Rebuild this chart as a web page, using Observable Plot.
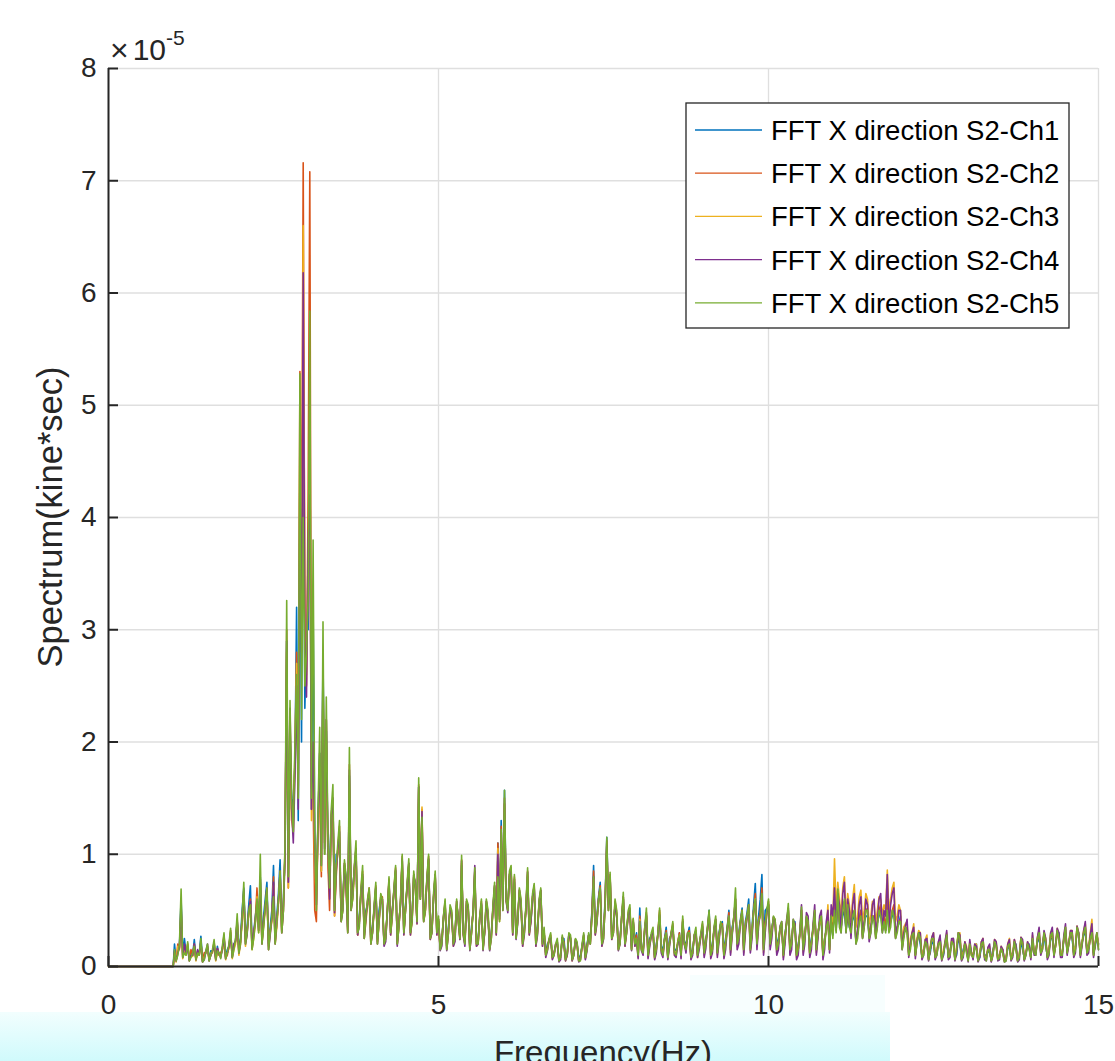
<!DOCTYPE html>
<html><head><meta charset="utf-8">
<script src="https://cdn.jsdelivr.net/npm/d3@7"></script>
<script src="https://cdn.jsdelivr.net/npm/@observablehq/plot@0.6"></script>
<style>
html,body{margin:0;padding:0;background:#fff;}
#wrap{position:relative;width:1115px;height:1061px;overflow:hidden;background:#fff;font-family:"Liberation Sans",Arial,sans-serif;}
.cyan{position:absolute;}
#chart{position:absolute;left:0;top:0;}
</style></head><body>
<div id="wrap">
  <div class="cyan" style="left:0;top:1012px;width:890px;height:49px;background:linear-gradient(#f2fefe,#d0fafc);"></div>
  <div class="cyan" style="left:690px;top:975px;width:195px;height:37px;background:#f7fefe;"></div>
  <div id="chart"></div>
</div>
<script>
const xTicks = [0, 5, 10, 15];
const yTicks = [0, 1, 2, 3, 4, 5, 6, 7, 8];
const seriesNames = ["FFT X direction S2-Ch1","FFT X direction S2-Ch2","FFT X direction S2-Ch3","FFT X direction S2-Ch4","FFT X direction S2-Ch5"];
const seriesColors = ["#0072BD","#D95319","#EDB120","#7E2F8E","#77AC30"];
const exponentLabel = "-5";

// silent band below 1 Hz
const silentFreq = [0, 0.98];
const silentVal = [0, 0];

// spectrum values (units of 1e-5 kine*sec) on bins 1.00, 1.05, ... 15.00 Hz (281 values)
// and on the in-between bins 1.025, 1.075, ... 14.975 Hz (280 values)
const ch1 = [
0.2,0.15,0.6,0.25,0.18,0.12,0.24,0.1,0.27,0.1,0.16,0.14,0.2,0.18,0.1,0.25,0.15,0.3,0.2,0.4,
0.25,0.7,0.35,0.72,0.3,0.55,0.8,0.45,0.75,0.35,0.9,0.45,0.95,0.6,2.9,2.1,1.5,3.2,4.0,5.6,
3.0,5.0,3.2,0.7,1.9,2.8,2.1,0.9,1.4,1.0,1.1,0.6,0.8,1.7,0.7,1.0,0.45,0.8,0.5,0.65,
0.35,0.7,0.5,0.55,0.3,0.75,0.5,0.85,0.4,0.95,0.55,0.9,0.45,0.75,1.6,1.35,0.55,0.95,0.35,0.8,
0.4,0.25,0.55,0.35,0.45,0.3,0.45,0.9,0.25,0.5,0.35,0.82,0.25,0.55,0.3,0.45,0.3,0.7,1.1,1.3,
1.57,0.55,0.85,0.75,0.45,0.55,0.35,0.8,0.4,0.7,0.35,0.65,0.3,0.2,0.25,0.12,0.22,0.1,0.25,0.1,
0.25,0.12,0.2,0.1,0.28,0.2,0.25,0.9,0.45,0.75,0.3,1.15,0.8,0.35,0.45,0.25,0.6,0.35,0.5,0.4,
0.3,0.52,0.15,0.45,0.25,0.3,0.2,0.45,0.15,0.35,0.25,0.35,0.15,0.3,0.4,0.2,0.35,0.15,0.3,0.2,
0.35,0.25,0.5,0.2,0.4,0.3,0.4,0.25,0.5,0.35,0.55,0.3,0.52,0.4,0.6,0.35,0.74,0.45,0.82,0.5,
0.55,0.35,0.4,0.25,0.35,0.3,0.45,0.25,0.4,0.2,0.45,0.3,0.35,0.25,0.45,0.3,0.4,0.25,0.45,0.4,
0.55,0.6,0.35,0.5,0.45,0.35,0.45,0.3,0.5,0.4,0.45,0.35,0.45,0.4,0.5,0.45,0.55,0.4,0.5,0.35,
0.45,0.3,0.35,0.2,0.3,0.25,0.2,0.15,0.25,0.12,0.2,0.15,0.25,0.1,0.22,0.15,0.25,0.1,0.2,0.15,
0.15,0.18,0.1,0.2,0.08,0.18,0.1,0.12,0.15,0.2,0.1,0.15,0.08,0.18,0.12,0.2,0.1,0.15,0.12,0.2,
0.2,0.15,0.25,0.2,0.18,0.15,0.25,0.2,0.3,0.12,0.3,0.22,0.25,0.18,0.3,0.22,0.3,0.2,0.35,0.18,
0.2];
const ch1Mid = [
0.06,0.18,0.1,0.12,0.06,0.1,0.08,0.12,0.05,0.12,0.07,0.14,0.08,0.1,0.15,0.09,0.18,0.1,0.22,0.15,
0.5,0.25,0.55,0.2,0.45,0.35,0.25,0.6,0.2,0.5,0.25,0.65,0.35,1.0,0.75,1.4,1.8,1.3,2.0,2.3,
3.0,1.4,1.1,1.3,0.85,1.0,1.0,1.3,0.5,1.0,0.45,0.9,0.35,0.55,0.85,0.3,0.65,0.3,0.55,0.25,
0.5,0.25,0.6,0.22,0.48,0.32,0.65,0.22,0.55,0.3,0.7,0.32,0.8,0.42,0.62,0.42,0.75,0.28,0.6,0.32,
0.18,0.42,0.18,0.5,0.22,0.55,0.28,0.32,0.55,0.18,0.48,0.22,0.42,0.18,0.55,0.18,0.5,0.32,0.45,0.55,
0.62,0.8,0.32,0.28,0.65,0.22,0.5,0.32,0.6,0.22,0.55,0.22,0.12,0.22,0.1,0.18,0.06,0.25,0.08,0.28,
0.08,0.22,0.06,0.18,0.1,0.28,0.5,0.32,0.62,0.22,0.6,0.55,0.28,0.55,0.18,0.42,0.22,0.45,0.18,0.22,
0.12,0.18,0.32,0.12,0.28,0.1,0.28,0.18,0.25,0.1,0.28,0.14,0.2,0.12,0.22,0.28,0.1,0.26,0.12,0.28,
0.14,0.32,0.12,0.32,0.15,0.38,0.12,0.35,0.18,0.42,0.22,0.42,0.18,0.48,0.2,0.55,0.25,0.6,0.2,0.52,
0.22,0.42,0.18,0.32,0.12,0.38,0.18,0.38,0.12,0.28,0.18,0.4,0.15,0.32,0.18,0.38,0.12,0.32,0.18,0.28,
0.32,0.38,0.45,0.32,0.35,0.42,0.22,0.4,0.28,0.45,0.28,0.42,0.28,0.45,0.32,0.32,0.32,0.45,0.28,0.38,
0.18,0.32,0.12,0.26,0.12,0.28,0.1,0.2,0.08,0.22,0.1,0.2,0.08,0.2,0.1,0.2,0.08,0.26,0.08,0.2,
0.07,0.12,0.16,0.06,0.18,0.1,0.14,0.06,0.2,0.08,0.15,0.06,0.16,0.08,0.2,0.06,0.22,0.08,0.18,0.1,
0.12,0.22,0.14,0.28,0.1,0.25,0.12,0.3,0.12,0.24,0.14,0.28,0.12,0.32,0.12,0.28,0.14,0.25,0.12,0.28];

const ch2 = [
0.12,0.2,0.5,0.18,0.2,0.15,0.2,0.14,0.22,0.12,0.18,0.1,0.22,0.16,0.12,0.28,0.1,0.32,0.18,0.42,
0.22,0.65,0.32,0.6,0.28,0.7,0.75,0.4,0.68,0.32,0.8,0.38,0.85,0.55,3.0,2.2,1.3,2.8,5.3,7.16,
2.5,7.08,1.5,0.4,1.6,2.6,2.2,0.5,1.5,0.8,1.25,0.55,0.75,1.8,0.65,1.05,0.4,0.85,0.45,0.7,
0.32,0.72,0.42,0.62,0.28,0.78,0.5,0.88,0.38,0.98,0.52,0.92,0.42,0.72,1.62,1.4,0.5,0.98,0.32,0.82,
0.42,0.22,0.58,0.32,0.48,0.28,0.42,0.95,0.22,0.52,0.32,0.85,0.22,0.58,0.32,0.48,0.28,0.72,1.1,1.25,
1.5,0.52,0.88,0.8,0.42,0.58,0.32,0.85,0.42,0.72,0.32,0.68,0.32,0.18,0.28,0.12,0.22,0.1,0.22,0.1,
0.26,0.12,0.2,0.08,0.28,0.18,0.22,0.85,0.42,0.72,0.28,1.12,0.82,0.32,0.48,0.22,0.62,0.32,0.52,0.42,
0.28,0.45,0.14,0.48,0.22,0.32,0.18,0.5,0.12,0.32,0.22,0.38,0.12,0.3,0.42,0.18,0.32,0.12,0.32,0.2,
0.38,0.22,0.48,0.18,0.42,0.28,0.38,0.22,0.48,0.32,0.6,0.28,0.5,0.38,0.55,0.32,0.65,0.42,0.7,0.4,
0.58,0.32,0.42,0.22,0.38,0.28,0.5,0.22,0.38,0.18,0.5,0.28,0.38,0.22,0.48,0.3,0.42,0.22,0.42,0.45,
0.6,0.7,0.35,0.58,0.5,0.35,0.5,0.3,0.5,0.38,0.52,0.35,0.45,0.4,0.55,0.45,0.6,0.42,0.55,0.35,
0.42,0.28,0.32,0.18,0.32,0.22,0.25,0.12,0.22,0.15,0.25,0.12,0.22,0.12,0.28,0.12,0.22,0.15,0.25,0.12,
0.14,0.2,0.1,0.16,0.1,0.2,0.08,0.15,0.12,0.18,0.1,0.12,0.08,0.2,0.1,0.16,0.1,0.2,0.12,0.16,
0.24,0.12,0.28,0.16,0.22,0.14,0.28,0.18,0.26,0.12,0.32,0.2,0.3,0.16,0.28,0.2,0.34,0.16,0.3,0.2,
0.18];
const ch2Mid = [
0.05,0.16,0.09,0.11,0.06,0.11,0.07,0.1,0.05,0.13,0.06,0.13,0.07,0.11,0.16,0.08,0.18,0.09,0.22,0.13,
0.42,0.22,0.48,0.18,0.42,0.32,0.22,0.52,0.18,0.42,0.22,0.58,0.32,1.05,0.7,1.3,1.9,1.6,3.5,3.0,
4.2,1.6,0.5,1.3,0.8,1.1,0.9,1.35,0.45,1.05,0.42,0.92,0.32,0.52,0.88,0.28,0.68,0.28,0.58,0.22,
0.52,0.22,0.62,0.2,0.5,0.3,0.68,0.2,0.58,0.3,0.72,0.3,0.82,0.4,0.62,0.42,0.78,0.26,0.62,0.3,
0.16,0.44,0.16,0.52,0.2,0.58,0.26,0.3,0.58,0.16,0.5,0.2,0.44,0.16,0.58,0.16,0.52,0.3,0.42,0.52,
0.6,0.82,0.3,0.26,0.68,0.2,0.52,0.3,0.62,0.2,0.58,0.2,0.1,0.24,0.08,0.2,0.05,0.26,0.06,0.28,
0.06,0.24,0.05,0.18,0.08,0.28,0.48,0.3,0.6,0.2,0.58,0.52,0.26,0.58,0.16,0.44,0.2,0.48,0.16,0.2,
0.1,0.16,0.34,0.1,0.28,0.08,0.3,0.16,0.24,0.08,0.3,0.12,0.22,0.1,0.2,0.3,0.08,0.28,0.1,0.28,
0.12,0.34,0.1,0.34,0.12,0.38,0.1,0.34,0.15,0.44,0.2,0.4,0.15,0.45,0.16,0.5,0.2,0.48,0.16,0.48,
0.2,0.44,0.15,0.34,0.1,0.4,0.15,0.4,0.1,0.3,0.15,0.44,0.12,0.34,0.15,0.4,0.1,0.34,0.15,0.3,
0.32,0.4,0.5,0.32,0.38,0.45,0.22,0.42,0.26,0.5,0.26,0.45,0.26,0.5,0.32,0.32,0.32,0.5,0.26,0.4,
0.16,0.34,0.1,0.28,0.1,0.3,0.08,0.22,0.06,0.24,0.08,0.2,0.06,0.2,0.08,0.22,0.06,0.28,0.06,0.2,
0.06,0.1,0.17,0.05,0.2,0.08,0.15,0.05,0.2,0.06,0.16,0.05,0.18,0.06,0.2,0.05,0.24,0.06,0.2,0.08,
0.12,0.24,0.12,0.28,0.08,0.26,0.1,0.3,0.1,0.24,0.12,0.3,0.1,0.33,0.1,0.3,0.12,0.24,0.1,0.28];

const ch3 = [
0.1,0.18,0.45,0.15,0.2,0.1,0.16,0.12,0.2,0.08,0.15,0.12,0.2,0.12,0.1,0.22,0.12,0.3,0.15,0.38,
0.2,0.6,0.3,0.55,0.25,0.62,0.7,0.35,0.65,0.3,0.72,0.35,0.8,0.5,2.8,2.0,1.2,2.7,4.8,6.6,
2.6,4.5,1.8,0.6,1.7,2.5,2.0,0.7,1.4,0.9,1.15,0.5,0.7,1.6,0.6,1.0,0.4,0.8,0.4,0.65,
0.3,0.68,0.4,0.58,0.25,0.75,0.45,0.85,0.35,0.95,0.5,0.9,0.4,0.7,1.58,1.42,0.48,0.95,0.3,0.8,
0.4,0.2,0.55,0.3,0.45,0.25,0.4,0.92,0.2,0.5,0.3,0.84,0.2,0.55,0.3,0.45,0.25,0.7,1.05,1.2,
1.45,0.5,0.85,0.78,0.4,0.55,0.3,0.82,0.4,0.7,0.3,0.65,0.3,0.15,0.25,0.1,0.2,0.08,0.2,0.1,
0.24,0.1,0.18,0.06,0.26,0.15,0.2,0.78,0.4,0.7,0.25,1.05,0.8,0.3,0.45,0.2,0.6,0.3,0.5,0.4,
0.25,0.42,0.12,0.45,0.2,0.3,0.15,0.48,0.1,0.3,0.2,0.35,0.1,0.28,0.4,0.15,0.3,0.12,0.3,0.18,
0.35,0.2,0.45,0.15,0.4,0.25,0.35,0.2,0.45,0.3,0.55,0.25,0.48,0.35,0.52,0.3,0.6,0.4,0.62,0.35,
0.55,0.3,0.4,0.2,0.38,0.25,0.5,0.2,0.35,0.15,0.5,0.25,0.4,0.2,0.5,0.3,0.45,0.25,0.55,0.5,
0.96,0.75,0.45,0.8,0.65,0.4,0.73,0.45,0.68,0.5,0.6,0.45,0.55,0.5,0.6,0.55,0.86,0.6,0.75,0.45,
0.5,0.35,0.4,0.25,0.38,0.25,0.3,0.15,0.28,0.18,0.3,0.15,0.25,0.15,0.3,0.12,0.25,0.18,0.3,0.12,
0.18,0.22,0.1,0.2,0.12,0.25,0.08,0.18,0.12,0.22,0.1,0.15,0.08,0.25,0.12,0.18,0.1,0.22,0.12,0.18,
0.28,0.12,0.32,0.18,0.25,0.15,0.32,0.2,0.28,0.12,0.35,0.22,0.32,0.18,0.3,0.22,0.38,0.18,0.42,0.22,
0.2];
const ch3Mid = [
0.04,0.15,0.07,0.1,0.05,0.09,0.05,0.1,0.04,0.12,0.05,0.12,0.05,0.1,0.14,0.06,0.16,0.07,0.2,0.1,
0.4,0.18,0.45,0.15,0.38,0.3,0.2,0.5,0.15,0.4,0.2,0.55,0.3,1.0,0.7,1.3,1.8,1.5,3.0,3.2,
3.6,1.3,0.9,1.2,0.85,1.0,0.95,1.2,0.45,1.0,0.4,0.9,0.3,0.5,0.8,0.28,0.62,0.25,0.55,0.2,
0.5,0.2,0.6,0.2,0.48,0.28,0.66,0.2,0.56,0.28,0.7,0.28,0.8,0.38,0.6,0.4,0.76,0.24,0.6,0.28,
0.15,0.42,0.15,0.5,0.18,0.56,0.24,0.28,0.56,0.15,0.48,0.18,0.42,0.15,0.56,0.15,0.5,0.28,0.4,0.5,
0.58,0.8,0.28,0.25,0.66,0.18,0.5,0.28,0.6,0.18,0.56,0.18,0.1,0.22,0.07,0.18,0.05,0.25,0.05,0.26,
0.05,0.22,0.05,0.16,0.07,0.26,0.45,0.28,0.58,0.18,0.55,0.5,0.24,0.55,0.15,0.42,0.18,0.45,0.15,0.18,
0.08,0.15,0.32,0.08,0.26,0.07,0.28,0.14,0.22,0.07,0.28,0.1,0.2,0.08,0.2,0.28,0.07,0.26,0.08,0.26,
0.1,0.32,0.08,0.32,0.1,0.36,0.08,0.32,0.12,0.42,0.18,0.38,0.12,0.42,0.14,0.48,0.18,0.45,0.12,0.46,
0.18,0.42,0.12,0.32,0.08,0.38,0.12,0.38,0.08,0.28,0.12,0.42,0.1,0.32,0.12,0.38,0.08,0.32,0.15,0.4,
0.5,0.6,0.7,0.45,0.55,0.6,0.35,0.62,0.4,0.65,0.38,0.58,0.4,0.62,0.45,0.5,0.48,0.7,0.4,0.55,
0.2,0.38,0.12,0.3,0.1,0.32,0.08,0.24,0.07,0.26,0.08,0.22,0.07,0.22,0.08,0.24,0.07,0.3,0.07,0.22,
0.06,0.12,0.2,0.05,0.22,0.08,0.17,0.05,0.24,0.07,0.18,0.05,0.2,0.07,0.24,0.05,0.26,0.07,0.22,0.08,
0.14,0.26,0.14,0.3,0.1,0.3,0.12,0.34,0.12,0.26,0.14,0.32,0.12,0.36,0.12,0.32,0.14,0.3,0.12,0.3];

const ch4 = [
0.14,0.12,0.55,0.2,0.16,0.1,0.2,0.15,0.22,0.06,0.2,0.1,0.18,0.16,0.08,0.26,0.12,0.28,0.2,0.4,
0.22,0.68,0.28,0.58,0.3,0.58,0.78,0.38,0.7,0.28,0.75,0.4,0.82,0.5,2.9,2.3,1.1,2.5,4.45,6.18,
2.4,4.2,2.0,0.55,1.9,2.7,2.2,0.6,1.5,0.85,1.2,0.5,0.72,1.75,0.62,1.05,0.38,0.82,0.42,0.68,
0.3,0.7,0.42,0.6,0.22,0.76,0.48,0.86,0.36,0.96,0.5,0.92,0.42,0.7,1.6,1.38,0.5,0.96,0.3,0.82,
0.42,0.18,0.56,0.3,0.46,0.22,0.4,0.94,0.18,0.52,0.3,0.9,0.2,0.56,0.32,0.46,0.26,0.72,1.0,1.2,
1.45,0.48,0.85,0.78,0.38,0.56,0.28,0.84,0.4,0.72,0.28,0.68,0.3,0.14,0.26,0.1,0.2,0.06,0.2,0.1,
0.25,0.1,0.2,0.06,0.26,0.14,0.2,0.8,0.38,0.7,0.24,1.08,0.8,0.3,0.46,0.2,0.62,0.3,0.5,0.4,
0.24,0.4,0.1,0.46,0.18,0.3,0.12,0.46,0.08,0.3,0.18,0.36,0.08,0.26,0.4,0.12,0.3,0.1,0.3,0.15,
0.36,0.16,0.46,0.12,0.42,0.22,0.35,0.15,0.45,0.28,0.6,0.2,0.48,0.3,0.52,0.25,0.58,0.36,0.62,0.3,
0.55,0.25,0.4,0.15,0.4,0.2,0.52,0.15,0.38,0.1,0.55,0.2,0.45,0.15,0.55,0.25,0.5,0.15,0.5,0.55,
0.7,0.65,0.3,0.75,0.6,0.25,0.65,0.3,0.62,0.35,0.55,0.3,0.6,0.4,0.65,0.5,0.82,0.55,0.7,0.35,
0.5,0.3,0.42,0.2,0.35,0.22,0.3,0.1,0.25,0.15,0.3,0.1,0.28,0.1,0.32,0.08,0.25,0.12,0.28,0.08,
0.16,0.24,0.06,0.18,0.08,0.25,0.05,0.2,0.1,0.22,0.06,0.15,0.05,0.24,0.08,0.18,0.06,0.24,0.1,0.18,
0.3,0.1,0.35,0.15,0.25,0.1,0.35,0.2,0.3,0.08,0.38,0.2,0.32,0.12,0.3,0.18,0.4,0.12,0.38,0.2,
0.15];
const ch4Mid = [
0.05,0.17,0.08,0.12,0.05,0.1,0.06,0.11,0.04,0.13,0.05,0.14,0.06,0.11,0.16,0.07,0.18,0.08,0.23,0.12,
0.44,0.2,0.5,0.16,0.4,0.32,0.2,0.54,0.15,0.44,0.2,0.58,0.3,1.0,0.75,1.4,1.7,1.4,2.8,2.9,
3.8,1.4,1.1,1.3,0.9,1.05,1.05,1.35,0.48,1.05,0.4,0.92,0.3,0.5,0.88,0.28,0.66,0.25,0.58,0.2,
0.52,0.2,0.62,0.18,0.5,0.28,0.68,0.18,0.58,0.28,0.72,0.28,0.82,0.38,0.6,0.4,0.78,0.24,0.62,0.28,
0.14,0.44,0.14,0.52,0.18,0.58,0.24,0.28,0.58,0.14,0.5,0.18,0.44,0.14,0.58,0.14,0.52,0.28,0.42,0.5,
0.58,0.82,0.28,0.24,0.68,0.18,0.52,0.28,0.62,0.18,0.58,0.18,0.08,0.24,0.06,0.2,0.04,0.26,0.05,0.28,
0.05,0.24,0.04,0.18,0.06,0.28,0.46,0.28,0.6,0.18,0.56,0.5,0.24,0.56,0.14,0.44,0.18,0.46,0.14,0.18,
0.07,0.14,0.34,0.07,0.28,0.06,0.3,0.12,0.24,0.06,0.3,0.1,0.2,0.07,0.2,0.3,0.06,0.28,0.08,0.28,
0.08,0.34,0.07,0.34,0.08,0.38,0.07,0.34,0.1,0.44,0.15,0.4,0.1,0.44,0.12,0.5,0.15,0.48,0.1,0.48,
0.15,0.44,0.1,0.36,0.06,0.42,0.1,0.42,0.06,0.32,0.1,0.48,0.08,0.38,0.1,0.45,0.06,0.4,0.12,0.45,
0.35,0.55,0.65,0.3,0.5,0.55,0.2,0.55,0.25,0.6,0.22,0.55,0.25,0.6,0.3,0.45,0.35,0.65,0.25,0.5,
0.15,0.36,0.08,0.3,0.07,0.3,0.06,0.24,0.05,0.26,0.06,0.22,0.05,0.22,0.06,0.25,0.05,0.3,0.05,0.22,
0.04,0.12,0.2,0.04,0.22,0.06,0.17,0.04,0.24,0.05,0.18,0.04,0.2,0.05,0.24,0.04,0.26,0.05,0.22,0.06,
0.1,0.26,0.1,0.32,0.06,0.3,0.08,0.34,0.08,0.28,0.1,0.32,0.08,0.36,0.08,0.32,0.1,0.28,0.08,0.3];

const ch5 = [
0.15,0.1,0.69,0.12,0.22,0.08,0.18,0.12,0.25,0.06,0.2,0.1,0.24,0.14,0.07,0.3,0.12,0.34,0.15,0.47,
0.2,0.75,0.3,0.55,0.25,0.6,1.0,0.35,0.7,0.3,0.62,0.4,0.85,0.5,3.26,2.37,1.2,2.6,5.28,4.0,
2.8,5.84,3.8,0.5,2.13,3.07,2.4,0.7,1.62,0.9,1.3,0.5,0.8,1.95,0.6,1.12,0.35,0.9,0.45,0.7,
0.3,0.75,0.4,0.6,0.25,0.8,0.45,0.9,0.35,1.0,0.5,0.96,0.4,0.7,1.68,1.33,0.5,1.0,0.3,0.85,
0.45,0.2,0.6,0.3,0.5,0.25,0.4,0.99,0.2,0.55,0.3,0.88,0.2,0.6,0.35,0.5,0.25,0.75,0.8,1.22,
1.57,0.5,0.9,0.82,0.4,0.6,0.3,0.88,0.45,0.74,0.3,0.7,0.35,0.15,0.3,0.1,0.25,0.08,0.2,0.12,
0.28,0.1,0.22,0.05,0.3,0.15,0.2,0.8,0.4,0.7,0.25,1.15,0.84,0.3,0.5,0.2,0.66,0.3,0.55,0.43,
0.25,0.4,0.12,0.52,0.2,0.35,0.15,0.52,0.1,0.3,0.2,0.4,0.1,0.28,0.45,0.15,0.3,0.12,0.35,0.18,
0.4,0.2,0.5,0.15,0.45,0.25,0.35,0.2,0.45,0.3,0.7,0.25,0.5,0.35,0.55,0.3,0.6,0.4,0.65,0.35,
0.6,0.3,0.42,0.2,0.4,0.25,0.56,0.2,0.35,0.15,0.53,0.25,0.4,0.2,0.5,0.3,0.45,0.2,0.4,0.45,
0.5,0.69,0.3,0.6,0.55,0.3,0.5,0.25,0.45,0.35,0.5,0.3,0.4,0.35,0.45,0.4,0.5,0.35,0.45,0.3,
0.4,0.25,0.3,0.15,0.3,0.2,0.25,0.1,0.2,0.15,0.25,0.1,0.22,0.12,0.28,0.1,0.2,0.15,0.25,0.1,
0.12,0.2,0.08,0.15,0.1,0.22,0.05,0.15,0.1,0.18,0.08,0.12,0.05,0.2,0.1,0.15,0.08,0.2,0.1,0.15,
0.25,0.1,0.3,0.15,0.22,0.12,0.3,0.18,0.25,0.1,0.35,0.2,0.3,0.15,0.28,0.2,0.35,0.15,0.3,0.2,
0.15];
const ch5Mid = [
0.05,0.2,0.08,0.1,0.05,0.12,0.06,0.1,0.04,0.14,0.05,0.15,0.06,0.12,0.18,0.07,0.2,0.08,0.25,0.12,
0.45,0.2,0.5,0.15,0.4,0.3,0.2,0.55,0.15,0.45,0.2,0.6,0.3,1.1,0.8,1.5,2.0,1.5,2.2,2.5,
3.3,1.5,1.2,1.4,0.9,1.0,1.1,1.4,0.5,1.1,0.4,0.95,0.3,0.5,0.9,0.3,0.7,0.25,0.6,0.2,
0.55,0.2,0.65,0.2,0.5,0.3,0.7,0.2,0.6,0.3,0.75,0.3,0.85,0.4,0.6,0.4,0.8,0.25,0.65,0.3,
0.15,0.45,0.15,0.55,0.2,0.6,0.25,0.3,0.6,0.15,0.5,0.2,0.45,0.15,0.6,0.15,0.55,0.3,0.4,0.5,
0.6,0.85,0.3,0.25,0.7,0.2,0.55,0.3,0.65,0.2,0.6,0.2,0.1,0.25,0.08,0.2,0.05,0.28,0.06,0.3,
0.06,0.25,0.05,0.2,0.08,0.3,0.45,0.3,0.6,0.2,0.55,0.5,0.25,0.6,0.15,0.45,0.2,0.5,0.15,0.2,
0.1,0.15,0.35,0.1,0.3,0.08,0.3,0.15,0.25,0.08,0.3,0.12,0.22,0.1,0.2,0.3,0.08,0.28,0.1,0.3,
0.12,0.35,0.1,0.35,0.12,0.4,0.1,0.35,0.15,0.45,0.2,0.4,0.15,0.45,0.15,0.5,0.2,0.45,0.15,0.5,
0.2,0.45,0.15,0.35,0.1,0.4,0.15,0.42,0.1,0.3,0.15,0.45,0.12,0.35,0.15,0.4,0.1,0.35,0.15,0.25,
0.3,0.35,0.5,0.3,0.35,0.45,0.2,0.4,0.25,0.5,0.25,0.45,0.25,0.5,0.3,0.3,0.3,0.5,0.25,0.4,
0.15,0.35,0.1,0.28,0.1,0.3,0.08,0.22,0.06,0.25,0.08,0.2,0.06,0.2,0.08,0.22,0.06,0.3,0.06,0.2,
0.05,0.1,0.18,0.05,0.2,0.08,0.15,0.05,0.22,0.06,0.16,0.04,0.18,0.06,0.22,0.05,0.25,0.06,0.2,0.08,
0.12,0.25,0.12,0.3,0.08,0.28,0.1,0.32,0.1,0.25,0.12,0.3,0.1,0.35,0.1,0.3,0.12,0.25,0.1,0.3];

const mains = [ch1, ch2, ch3, ch4, ch5];
const mids = [ch1Mid, ch2Mid, ch3Mid, ch4Mid, ch5Mid];
mains.forEach((s, k) => { if (s.length !== 281) throw new Error("main series " + (k + 1) + " has " + s.length); });
mids.forEach((s, k) => { if (s.length !== 280) throw new Error("mid series " + (k + 1) + " has " + s.length); });

const rows = [];
mains.forEach((m, k) => {
  const s = seriesNames[k];
  silentFreq.forEach((f, i) => rows.push({f, v: silentVal[i], s}));
  m.forEach((v, i) => {
    rows.push({f: +(1 + i * 0.05).toFixed(3), v, s});
    if (i < mids[k].length) rows.push({f: +(1.025 + i * 0.05).toFixed(3), v: mids[k][i], s});
  });
});

const W = 1115, H = 1061, mL = 108, mR = 17, mT = 68, mB = 95;
const FONT = "'Liberation Sans', Arial, Helvetica, sans-serif";
const INK = "#262626";

const plot = Plot.plot({
  width: W, height: H,
  marginLeft: mL, marginRight: mR, marginTop: mT, marginBottom: mB,
  style: {background: "transparent", fontFamily: FONT, fontSize: "28px", color: INK, overflow: "visible"},
  x: {domain: [0, 15]},
  y: {domain: [0, 8]},
  color: {domain: seriesNames, range: seriesColors},
  marks: [
    Plot.gridX(xTicks, {stroke: "#dfdfdf", strokeOpacity: 1, strokeWidth: 1.3}),
    Plot.gridY(yTicks, {stroke: "#dfdfdf", strokeOpacity: 1, strokeWidth: 1.3}),
    Plot.lineY(rows, {x: "f", y: "v", z: "s", stroke: "s", strokeWidth: 1.6, strokeLinejoin: "round"}),
    Plot.ruleX([0], {stroke: INK, strokeWidth: 2}),
    Plot.ruleY([0], {stroke: INK, strokeWidth: 2}),
    Plot.axisX(xTicks, {tickSize: -10, tickPadding: 38, label: null, stroke: INK, strokeWidth: 2, fill: INK, fontSize: 28, tickFormat: d => String(d)}),
    Plot.axisY(yTicks, {tickSize: -10, tickPadding: 22, label: null, stroke: INK, strokeWidth: 2, fill: INK, fontSize: 28, tickFormat: d => String(d)})
  ]
});
document.getElementById("chart").appendChild(plot);

const svg = d3.select(plot);
// x label (cut by the bottom of the picture)
svg.append("text").attr("x", (mL + W - mR) / 2).attr("y", 1064)
  .attr("text-anchor", "middle").attr("font-family", FONT).attr("font-size", 33).attr("fill", INK)
  .text("Frequency(Hz)");
// y label
svg.append("text").attr("transform", `translate(62,${(mT + H - mB) / 2}) rotate(-90)`)
  .attr("text-anchor", "middle").attr("font-family", FONT).attr("font-size", 34.5).attr("fill", INK)
  .text("Spectrum(kine*sec)");
// exponent label
const ex = svg.append("text").attr("x", 110).attr("y", 60).attr("text-anchor", "start")
  .attr("font-family", FONT).attr("fill", INK);
ex.append("tspan").attr("font-size", 32).attr("dy", 1).text("×");
ex.append("tspan").attr("font-size", 30).attr("dx", 4).attr("dy", -1).text("10");
ex.append("tspan").attr("font-size", 21).attr("dy", -15).text(exponentLabel);

// legend
const lg = svg.append("g").attr("font-family", FONT).attr("font-size", 27.5).attr("text-anchor", "start");
lg.append("rect").attr("x", 686).attr("y", 103).attr("width", 383).attr("height", 225)
  .attr("fill", "#fff").attr("stroke", INK).attr("stroke-width", 1.3);
seriesNames.forEach((name, i) => {
  const cy = 130 + i * 43.2;
  lg.append("line").attr("x1", 695).attr("x2", 762).attr("y1", cy).attr("y2", cy)
    .attr("stroke", seriesColors[i]).attr("stroke-width", 1.3);
  lg.append("text").attr("x", 771).attr("y", cy + 10).attr("fill", "#000").attr("text-anchor", "start").text(name);
});
</script>
</body></html>
